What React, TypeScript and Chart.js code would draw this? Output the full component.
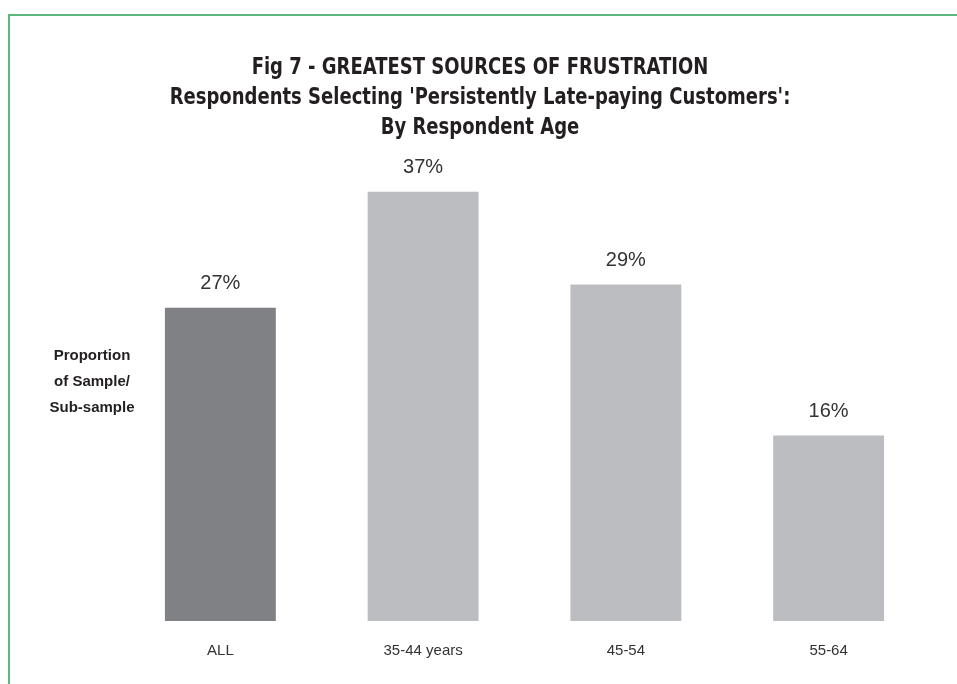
import React, { useEffect, useRef } from "react";
import { Chart, registerables } from "chart.js";

Chart.register(...registerables);

const categories = ["ALL", "35-44 years", "45-54", "55-64"];
const values = [27, 37, 29, 16];
const barColors = ["#808184", "#bcbdc0", "#bcbdc0", "#bcbdc0"];
const titleLines = [
  "Fig 7 - GREATEST SOURCES OF FRUSTRATION",
  "Respondents Selecting 'Persistently Late-paying Customers':",
  "By Respondent Age",
];
const yTitleLines = ["Proportion", "of Sample/", "Sub-sample"];

const decorPlugin = {
  id: "decor",
  beforeDraw(chart: any) {
    const ctx = chart.ctx;
    ctx.save();
    ctx.fillStyle = "#ffffff";
    ctx.fillRect(0, 0, chart.width, chart.height);
    ctx.strokeStyle = "#5cb87a";
    ctx.lineWidth = 2;
    ctx.beginPath();
    ctx.moveTo(9, chart.height);
    ctx.lineTo(9, 15);
    ctx.lineTo(chart.width, 15);
    ctx.stroke();
    ctx.restore();
  },
  afterDraw(chart: any) {
    const ctx = chart.ctx;
    ctx.save();
    ctx.fillStyle = "#231f20";
    ctx.textAlign = "center";
    ctx.textBaseline = "middle";
    ctx.save();
    ctx.translate(480, 0);
    ctx.scale(0.91, 1.08);
    ctx.font = "bold 22px 'DejaVu Sans Condensed', 'DejaVu Sans', sans-serif";
    titleLines.forEach((t, i) => ctx.fillText(t, 0, (68 + i * 30) / 1.08));
    ctx.restore();
    ctx.fillStyle = "#231f20";
    ctx.font = "bold 15px 'Liberation Sans', Arial, sans-serif";
    yTitleLines.forEach((t, i) => ctx.fillText(t, 92, 356 + i * 26));
    // value labels
    ctx.font = "20px 'Liberation Sans', Arial, sans-serif";
    ctx.fillStyle = "#333333";
    const meta = chart.getDatasetMeta(0);
    meta.data.forEach((bar: any, i: number) => {
      ctx.fillText(values[i] + "%", bar.x, bar.y - 24);
    });
    ctx.restore();
  },
};

export default function App() {
  const ref = useRef<HTMLCanvasElement>(null);
  useEffect(() => {
    const chart = new Chart(ref.current!, {
      type: "bar",
      data: {
        labels: categories,
        datasets: [
          {
            data: values,
            backgroundColor: barColors,
            borderWidth: 0,
            barPercentage: 0.547,
            categoryPercentage: 1,
          },
        ],
      },
      options: {
        animation: false,
        responsive: false,
        maintainAspectRatio: false,
        layout: { padding: { left: 119, right: 27, top: 157, bottom: 3 } },
        plugins: {
          legend: { display: false },
          title: { display: false },
          tooltip: { enabled: false },
        },
        scales: {
          x: {
            grid: { display: false, drawTicks: false },
            border: { display: false },
            ticks: {
              padding: 21,
              color: "#333333",
              font: { family: "'Liberation Sans', Arial, sans-serif", size: 15 },
            },
          },
          y: {
            display: false,
            min: 0,
            max: 40,
          },
        },
      },
      plugins: [decorPlugin],
    });
    return () => chart.destroy();
  }, []);
  return (
    <div style={{ position: "fixed", left: 0, top: 0, width: 957, height: 684, background: "#fff" }}>
      <canvas ref={ref} width={957} height={684} style={{ display: "block" }} />
    </div>
  );
}
